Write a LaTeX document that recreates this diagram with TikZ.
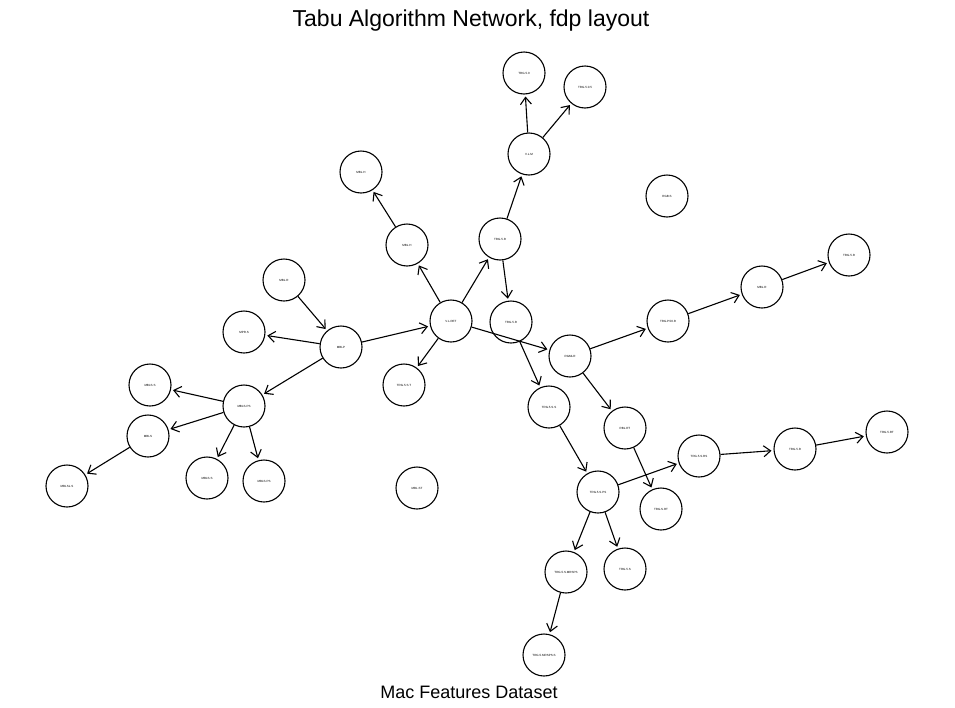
\documentclass[tikz,border=0pt]{standalone}
\usepackage{fontspec}
\setmainfont{Liberation Sans}
\usetikzlibrary{arrows.meta}
\begin{document}
\begin{tikzpicture}[x=1pt,y=-1pt,
  vnode/.style={circle,draw,line width=1.1pt,minimum size=42pt,inner sep=0pt,font=\fontsize{3}{3.5}\selectfont},
  edge/.style={line width=1.1pt,-{Straight Barb[length=7pt,width=11pt,line width=1.1pt]},shorten >=2pt}]
\useasboundingbox (0,0) rectangle (955,707);
\node (title) at (471,21) {\fontsize{23}{26}\selectfont Tabu Algorithm Network, fdp layout};
\node (sub) at (469,692) {\fontsize{18}{20}\selectfont Mac Features Dataset};
\node[vnode] (n1) at (524,73) {TRG.5.0};
\node[vnode] (n2) at (585,87) {TRG.5.0.5};
\node[vnode] (n3) at (529,154) {V.L.M};
\node[vnode] (n4) at (361,172) {MBL.H};
\node[vnode] (n5) at (667,196) {RGB.S};
\node[vnode] (n6) at (407,245) {MBL.H};
\node[vnode] (n7) at (500,239) {TRG.5.R};
\node[vnode] (n8) at (284,280) {MBL.R};
\node[vnode] (n9) at (849,255) {TRG.5.R};
\node[vnode] (n10) at (762,287) {MBL.R};
\node[vnode] (n11) at (668,321) {TRG.P.50.R};
\node[vnode] (n12) at (451,321) {V.L.RET};
\node[vnode] (n13) at (511,322) {TRG.5.R};
\node[vnode] (n14) at (244,332) {MPR.S};
\node[vnode] (n15) at (341,347) {MBLP};
\node[vnode] (n16) at (570,356) {RGMLR};
\node[vnode] (n17) at (150,385) {MBLS.S};
\node[vnode] (n18) at (404,385) {TRG.5.S.T};
\node[vnode] (n19) at (244,406) {MBLS.PS};
\node[vnode] (n20) at (549,407) {TRG.5.S.S};
\node[vnode] (n21) at (148,436) {MBLS};
\node[vnode] (n22) at (625,428) {RBL.RT};
\node[vnode] (n23) at (699,456) {TRG.5.S.RS};
\node[vnode] (n24) at (795,449) {TRG.5.R};
\node[vnode] (n25) at (887,432) {TRG.5.RT};
\node[vnode] (n26) at (207,478) {MBLS.S};
\node[vnode] (n27) at (264,481) {MBLS.PS};
\node[vnode] (n28) at (417,488) {MBL.ST};
\node[vnode] (n29) at (67,486) {MBLSL.S};
\node[vnode] (n30) at (598,492) {TRG.5.S.PS};
\node[vnode] (n31) at (661,509) {TRG.S.RT};
\node[vnode] (n32) at (625,569) {TRG.5.S};
\node[vnode] (n33) at (566,572) {TRG.5.S.MRSPS};
\node[vnode] (n34) at (544,655) {TRG.5.MRSPS.S};
\draw[edge] (n3) -- (n1);
\draw[edge] (n3) -- (n2);
\draw[edge] (n6) -- (n4);
\draw[edge] (n12) -- (n6);
\draw[edge] (n12) -- (n7);
\draw[edge] (n7) -- (n3);
\draw[edge] (n7) -- (n13);
\draw[edge] (n12) -- (n18);
\draw[edge] (n12) -- (n16);
\draw[edge] (n13) -- (n20);
\draw[edge] (n15) -- (n12);
\draw[edge] (n8) -- (n15);
\draw[edge] (n15) -- (n14);
\draw[edge] (n15) -- (n19);
\draw[edge] (n19) -- (n17);
\draw[edge] (n19) -- (n21);
\draw[edge] (n19) -- (n26);
\draw[edge] (n19) -- (n27);
\draw[edge] (n21) -- (n29);
\draw[edge] (n16) -- (n11);
\draw[edge] (n11) -- (n10);
\draw[edge] (n10) -- (n9);
\draw[edge] (n16) -- (n22);
\draw[edge] (n22) -- (n31);
\draw[edge] (n20) -- (n30);
\draw[edge] (n30) -- (n23);
\draw[edge] (n23) -- (n24);
\draw[edge] (n24) -- (n25);
\draw[edge] (n30) -- (n33);
\draw[edge] (n30) -- (n32);
\draw[edge] (n33) -- (n34);
\end{tikzpicture}
\end{document}
